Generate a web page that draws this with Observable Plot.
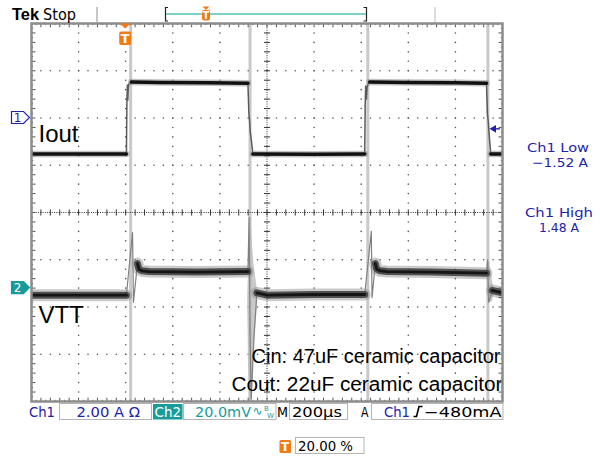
<!DOCTYPE html>
<html><head><meta charset="utf-8">
<script src="https://cdn.jsdelivr.net/npm/d3@7"></script>
<script src="https://cdn.jsdelivr.net/npm/@observablehq/plot@0.6"></script>
<style>
html,body{margin:0;padding:0;background:#fff;}
#wrap{position:relative;width:600px;height:459px;overflow:hidden;background:#fff;}
#wrap svg{position:absolute;left:0;top:0;}
</style></head><body><div id="wrap"></div>
<script>
// ---- scope settings ----
const timeDomain = [-400, 1600];   // µs, 200 µs/div, trigger at 20 %
const divDomain = [-4, 4];         // vertical divisions
const ch1Scale = 2.00;             // A/div
const ch2Scale = 20.0;             // mV/div
const ch1Offset = 2.0;             // div
const ch2Offset = -1.6;            // div
const triggerLevel = -0.48;        // A
const triggerPct = 20;             // %

// ---- Ch1: Iout (A) ----
const ioutTime = [-400,3, 3,5,7,9,11,14,24, 24,150,350,519, 519,523,526,529,533,540, 540,800,1015, 1015,1017,1019,1022,1025,1030,1036, 1036,1200,1400,1532, 1532,1536,1540,1544,1550, 1550,1600];
const ioutAmps = [-1.52,-1.52, -1.52,0.6,1.4,0.75,1.3,1.45,1.52, 1.52,1.5,1.49,1.47, 1.47,0.2,-0.1,-0.6,-0.9,-1.52, -1.52,-1.53,-1.52, -1.52,0.6,1.35,0.8,1.3,1.45,1.52, 1.52,1.5,1.49,1.47, 1.47,0.2,-0.2,-0.8,-1.52, -1.52,-1.52];
const ioutSeg  = [0,0, 1,1,1,1,1,1,1, 2,2,2,2, 3,3,3,3,3,3, 4,4,4, 5,5,5,5,5,5,5, 6,6,6,6, 7,7,7,7,7, 8,8];

// ---- Ch2: VTT (mV) ----
const vttTime = [-400,3, 3,29,33,50, 50,56,70,100,300,519, 519,524,528,533,545,557, 557,600,800,1015, 1015,1043,1046,1060, 1060,1066,1080,1110,1300,1532, 1532,1537,1541,1548,1556, 1556,1600];
const vttMv   = [-3,-3, -3,23.5,-6,10.4, 10.4,8,7.3,7,6.8,7, 7,30,-20,-47,-20,-2, -2,-3,-2.7,-2.7, -2.7,24,-4,10.4, 10.4,8,7.3,7,6.8,6.3, 6.3,12,-6,-4,-1, -1,-2];
const vttSeg  = [0,0, 1,1,1,1, 2,2,2,2,2,2, 3,3,3,3,3,3, 4,4,4,4, 5,5,5,5, 6,6,6,6,6,6, 7,7,7,7,7, 8,8];

// persistence smear at the falling edges of VTT
const smearMv = [30,10,-3,-20,-35,-48, 11,4,-2,-6];
const smearT1 = [530,524,518,520,522,526, 1540,1537,1538,1541];
const smearT2 = [532,545,560,550,540,532, 1546,1556,1565,1556];
const smearSeg = [0,0,0,0,0,0, 1,1,1,1];

// fast edges shown as light persistence lines
const edgeTimes = [21, 528, 1028, 1538];

// ---- derived tables ----
const iout = ioutTime.map((t,i)=>({t, y: ioutAmps[i]/ch1Scale + ch1Offset, seg: ioutSeg[i]}));
const vtt = vttTime.map((t,i)=>({t, y: vttMv[i]/ch2Scale + ch2Offset, seg: vttSeg[i]}));
const smear = smearMv.map((v,i)=>({y: v/ch2Scale + ch2Offset, t1: smearT1[i], t2: smearT2[i], seg: smearSeg[i]}));
const flat = d => d.seg % 2 === 0, edge = d => d.seg % 2 === 1;

// grid
const xMajor = d3.range(timeDomain[0], timeDomain[1] + 1, 200);
const xMinor = d3.range(timeDomain[0], timeDomain[1] + 1, 40);
const xFine = d3.range(timeDomain[0], timeDomain[1] + 1, 20);
const yMajor = d3.range(-4, 4.001, 1);
const yMinor = d3.range(-20, 21).map(k => k/5);
const yFine = d3.range(-40, 41).map(k => k/10);
const xC = 600, yC = 0;
const gridDots = [];
for (const x of xMajor) if (x !== xC && x > timeDomain[0] && x < timeDomain[1]) for (const y of yMinor) if (Math.abs(y) < 4) gridDots.push({x, y});
for (const y of yMajor) if (y !== yC && Math.abs(y) < 4) for (const x of xMinor) if (x > timeDomain[0] && x < timeDomain[1]) gridDots.push({x, y});
const centerTicksX = xMinor.filter(x => x > timeDomain[0] && x < timeDomain[1]).map(x => ({x1:x, x2:x, y1:-0.065, y2:0.065}));
const centerTicksY = yMinor.filter(y => Math.abs(y) < 4).map(y => ({x1:xC-13, x2:xC+13, y1:y, y2:y}));
const borderTicks = [];
xFine.forEach((x,i) => { const L = i % 2 === 0 ? 0.08 : 0.035; borderTicks.push({x1:x,x2:x,y1:4,y2:4-L},{x1:x,x2:x,y1:-4,y2:-4+L}); });
yFine.forEach((y,i) => { const L = i % 2 === 0 ? 17 : 7; borderTicks.push({x1:-400,x2:-400+L,y1:y,y2:y},{x1:1600,x2:1600-L,y1:y,y2:y}); });

const chart = Plot.plot({
  width: 600, height: 459,
  marginLeft: 31, marginRight: 98, marginTop: 23, marginBottom: 58,
  x: {domain: timeDomain, axis: null},
  y: {domain: divDomain, axis: null},
  style: {background: "transparent", overflow: "visible"},
  marks: [
    Plot.ruleX(edgeTimes, {stroke: "#c9c9c9", strokeWidth: 3}),
    Plot.dot(gridDots, {x: "x", y: "y", r: 0.8, fill: "#555", stroke: null}),
    Plot.ruleY([yC], {stroke: "#333", strokeWidth: 1, strokeDasharray: "1 1.3"}),
    Plot.ruleX([xC], {stroke: "#333", strokeWidth: 1, strokeDasharray: "1 1.3"}),
    Plot.link(centerTicksX, {x1:"x1", x2:"x2", y1:"y1", y2:"y2", stroke: "#333", strokeWidth: 1}),
    Plot.link(centerTicksY, {x1:"x1", x2:"x2", y1:"y1", y2:"y2", stroke: "#333", strokeWidth: 1}),
    Plot.areaX(smear, {y: "y", x1: "t1", x2: "t2", z: "seg", fill: "#b8b8b8", fillOpacity: 0.75, curve: "catmull-rom", clip: true}),
    // VTT
    Plot.line(vtt.filter(edge), {x: "t", y: "y", z: "seg", stroke: "#808080", strokeWidth: 1.2, clip: true}),
    Plot.line(vtt.filter(flat), {x: "t", y: "y", z: "seg", stroke: "#8a8a8a", strokeOpacity: 0.45, strokeWidth: 12, strokeLinejoin: "round", clip: true}),
    Plot.line(vtt.filter(flat), {x: "t", y: "y", z: "seg", stroke: "#3c3c3c", strokeOpacity: 0.85, strokeWidth: 7, strokeLinejoin: "round", clip: true}),
    Plot.line(vtt.filter(flat), {x: "t", y: "y", z: "seg", stroke: "#151515", strokeWidth: 2.8, strokeLinejoin: "round", clip: true}),
    // Iout
    Plot.line(iout.filter(edge), {x: "t", y: "y", z: "seg", stroke: "#5a5a5a", strokeWidth: 1.5, clip: true}),
    Plot.line(iout.filter(flat), {x: "t", y: "y", z: "seg", stroke: "#888", strokeOpacity: 0.5, strokeWidth: 6.5, clip: true}),
    Plot.line(iout.filter(flat), {x: "t", y: "y", z: "seg", stroke: "#111", strokeWidth: 3.5, clip: true}),
    // labels
    Plot.text(["Iout"], {text: d => d, frameAnchor: "top-left", dx: 7, dy: 118, lineAnchor: "bottom", textAnchor: "start", fontSize: 24, fontFamily: "Liberation Sans", fill: "#000"}),
    Plot.text(["VTT"], {text: d => d, frameAnchor: "top-left", dx: 7, dy: 299, lineAnchor: "bottom", textAnchor: "start", fontSize: 24, fontFamily: "Liberation Sans", fill: "#000"}),
    Plot.text(["Cin: 47uF ceramic capacitor"], {text: d => d, frameAnchor: "bottom-right", dx: -2, dy: -39, lineAnchor: "bottom", textAnchor: "end", fontSize: 20, fontFamily: "Liberation Sans", fill: "#000"}),
    Plot.text(["Cout: 22uF ceramic capacitor"], {text: d => d, frameAnchor: "bottom-right", dx: 0, dy: -11, lineAnchor: "bottom", textAnchor: "end", fontSize: 20, fontFamily: "Liberation Sans", fill: "#000"}),
    Plot.link(borderTicks, {x1:"x1", x2:"x2", y1:"y1", y2:"y2", stroke: "#555", strokeWidth: 1}),
    Plot.frame({stroke: "#8c8c8c", strokeWidth: 2.5})
  ]
});
document.getElementById("wrap").appendChild(chart);
// the Cout caption is set a little wider than Cin in the reference
d3.select(chart).selectAll("text").filter(function() { return this.textContent.startsWith("Cout"); })
  .attr("textLength", 271).attr("lengthAdjust", "spacingAndGlyphs");

// ---- scope chrome overlay ----
const px = t => 31 + (t - timeDomain[0]) / (timeDomain[1] - timeDomain[0]) * 471;
const py = d => 401 - (d - divDomain[0]) / (divDomain[1] - divDomain[0]) * 378;
const BLUE = "#2222aa", TEAL = "#179c9c", ORANGE = "#f27a16";
const ui = d3.select("#wrap").append("svg").attr("width", 600).attr("height", 459);
function txt(x, y, s, o = {}) {
  const t = ui.append("text").attr("x", x).attr("y", y).text(s)
    .attr("font-family", o.family || "DejaVu Sans").attr("font-size", o.size || 14).attr("fill", o.fill || "#000");
  if (o.weight) t.attr("font-weight", o.weight);
  if (o.len) t.attr("textLength", o.len).attr("lengthAdjust", "spacingAndGlyphs");
  if (o.anchor) t.attr("text-anchor", o.anchor);
  return t;
}
function badge(cx, triTop, triH, triW, boxTop, boxH, boxW) {
  if (triH > 0) ui.append("path").attr("d", `M${cx-triW/2},${triTop}L${cx+triW/2},${triTop}L${cx},${triTop+triH}Z`).attr("fill", ORANGE);
  ui.append("rect").attr("x", cx-boxW/2).attr("y", boxTop).attr("width", boxW).attr("height", boxH).attr("rx", 2).attr("fill", ORANGE);
  txt(cx, boxTop + boxH*0.82, "T", {size: boxH*0.95, fill: "#fff", weight: "bold", anchor: "middle"});
}
// header
txt(12, 19.5, "Tek", {family: "Liberation Sans", weight: "bold", size: 17, len: 27});
txt(43, 19.5, "Stop", {size: 15, len: 33});
ui.append("rect").attr("x", 96).attr("y", 7).attr("width", 2).attr("height", 15).attr("fill", "#c8c8c8");
ui.append("rect").attr("x", 434).attr("y", 7).attr("width", 2).attr("height", 15).attr("fill", "#dcdcdc");
ui.append("path").attr("d", "M168,7.5H165.5V21H168").attr("fill", "none").attr("stroke", "#222").attr("stroke-width", 1.2);
ui.append("path").attr("d", "M363.5,7.5H366.5V21H363.5").attr("fill", "none").attr("stroke", "#222").attr("stroke-width", 1.2);
ui.append("line").attr("x1", 166).attr("x2", 366).attr("y1", 14).attr("y2", 14).attr("stroke", "#7fd0c8").attr("stroke-width", 2.2);
badge(166 + 200*triggerPct/100, 6.5, 3.5, 7, 10, 10.5, 8);
// trigger position marker
badge(px(0), 23.5, 5, 11, 31.5, 13.5, 12);
// channel markers
function chMarker(yy, label, filled, col) {
  ui.append("path").attr("d", `M11.5,${yy-6}H23.5L29.5,${yy}L23.5,${yy+6}H11.5Z`)
    .attr("fill", filled ? col : "#fff").attr("stroke", col).attr("stroke-width", 1.2);
  txt(17.5, yy + 4.5, label, {size: 12, fill: filled ? "#fff" : col, anchor: "middle"});
}
chMarker(py(ch1Offset), "1", false, BLUE);
chMarker(py(ch2Offset), "2", true, TEAL);
// trigger level arrow
const ty = py(triggerLevel/ch1Scale + ch1Offset);
ui.append("path").attr("d", `M489.5,${ty}L496,${ty-3.8}L496,${ty+3.8}Z`).attr("fill", BLUE);
ui.append("line").attr("x1", 495).attr("x2", 500).attr("y1", ty).attr("y2", ty).attr("stroke", BLUE).attr("stroke-width", 1.4);
// right measurements
txt(558, 151.5, "Ch1 Low", {fill: BLUE, size: 12.5, anchor: "middle", len: 62});
txt(560, 166.5, "\u22121.52 A", {fill: BLUE, size: 12.5, anchor: "middle", len: 56});
txt(559, 217, "Ch1 High", {fill: BLUE, size: 12.5, anchor: "middle", len: 68});
txt(559, 232, "1.48 A", {fill: BLUE, size: 12.5, anchor: "middle", len: 40});
// status bar
const boxes = [[59.5, 92], [183.5, 92.5], [289.5, 58], [371.5, 131.5]];
boxes.forEach(([x, w]) => ui.append("rect").attr("x", x).attr("y", 403.5).attr("width", w).attr("height", 16).attr("fill", "none").attr("stroke", "#b4b4b4"));
ui.append("rect").attr("x", 153).attr("y", 404).attr("width", 29.5).attr("height", 15.5).attr("fill", TEAL);
txt(29, 416.5, "Ch1", {fill: BLUE, len: 26});
txt(76.5, 416.5, "2.00 A \u03A9", {fill: BLUE, len: 63.5});
txt(154.5, 416.5, "Ch2", {fill: "#fff", len: 26.5});
txt(195, 416.5, "20.0mV", {fill: TEAL, len: 56});
txt(252.5, 415, "\u223F", {fill: TEAL, size: 12});
txt(264, 411, "B", {fill: TEAL, size: 7});
txt(267, 418, "W", {fill: TEAL, size: 7});
txt(277, 416.5, "M", {len: 11});
txt(292, 416.5, "200\u00B5s", {len: 50});
txt(361, 416.5, "A", {len: 7.5});
txt(384, 416.5, "Ch1", {fill: BLUE, len: 26});
ui.append("path").attr("d", "M413.5,416.5H416.5L419,406.5H422.5").attr("fill", "none").attr("stroke", "#000").attr("stroke-width", 1.6);
txt(424, 416.5, "\u2212480mA", {len: 77.5});
// trigger percentage
ui.append("rect").attr("x", 279.5).attr("y", 440).attr("width", 11.5).attr("height", 13).attr("rx", 1.5).attr("fill", ORANGE);
txt(285.2, 451, "T", {size: 12, fill: "#fff", weight: "bold", anchor: "middle"});
ui.append("rect").attr("x", 295.5).attr("y", 437.5).attr("width", 68.5).attr("height", 16).attr("fill", "none").attr("stroke", "#b4b4b4");
txt(298, 450.5, triggerPct.toFixed(2) + " %", {len: 55});
</script></body></html>
